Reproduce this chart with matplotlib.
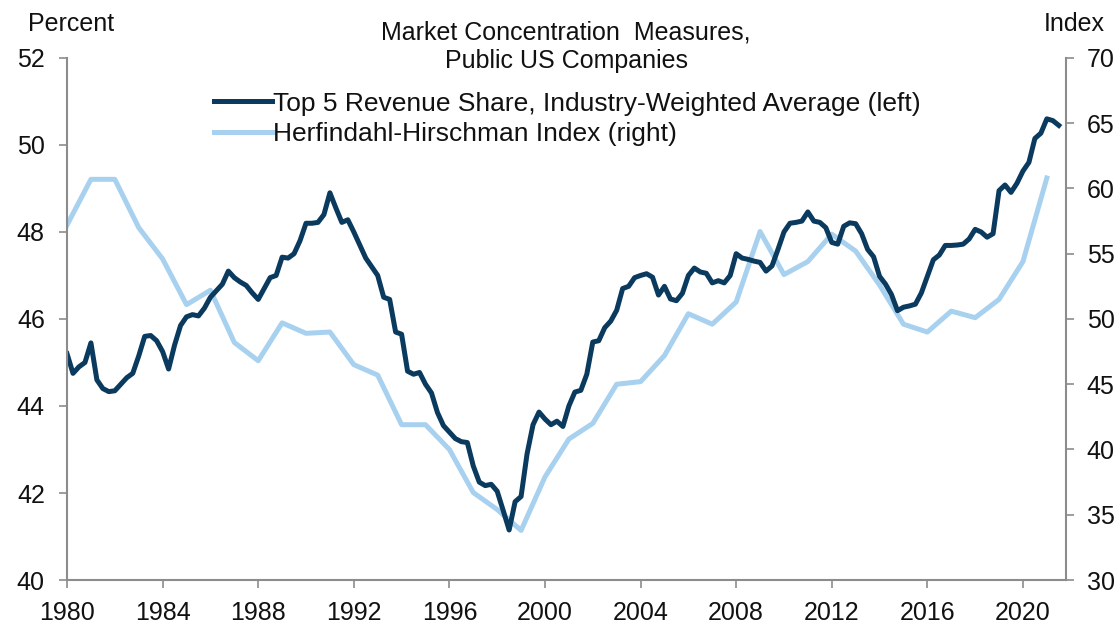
import numpy as np
import matplotlib
matplotlib.use("Agg")
import matplotlib.pyplot as plt

plt.rcParams['font.family'] = ['Liberation Sans', 'DejaVu Sans']

# Top 5 revenue share, quarterly from 1980Q1 (percent, left axis)
top5_share = [
    45.2, 44.75, 44.9, 45.0,
    45.45, 44.6, 44.4, 44.33,
    44.35, 44.5, 44.65, 44.75,
    45.15, 45.6, 45.62, 45.5,
    45.25, 44.85, 45.4, 45.85,
    46.05, 46.1, 46.07, 46.25,
    46.5, 46.65, 46.8, 47.1,
    46.95, 46.85, 46.77, 46.6,
    46.45, 46.7, 46.95, 47.0,
    47.42, 47.4, 47.5, 47.8,
    48.2, 48.2, 48.22, 48.4,
    48.9, 48.55, 48.22, 48.28,
    48.0, 47.7, 47.4, 47.2,
    47.0, 46.5, 46.45, 45.7,
    45.65, 44.8, 44.73, 44.77,
    44.5, 44.3, 43.85, 43.55,
    43.4, 43.25, 43.18, 43.16,
    42.62, 42.25, 42.17, 42.2,
    42.04, 41.6, 41.15, 41.8,
    41.92, 42.9, 43.57, 43.86,
    43.7, 43.57, 43.65, 43.53,
    44.0, 44.32, 44.36, 44.73,
    45.47, 45.5, 45.8, 45.95,
    46.2, 46.7, 46.75, 46.95,
    47.0, 47.04, 46.96, 46.55,
    46.75, 46.46, 46.42, 46.59,
    47.0, 47.17, 47.08, 47.05,
    46.83, 46.88, 46.83, 47.0,
    47.5, 47.4, 47.37, 47.33,
    47.3, 47.1, 47.22, 47.6,
    48.0, 48.2, 48.22, 48.25,
    48.46, 48.25, 48.22, 48.1,
    47.76, 47.72, 48.13, 48.21,
    48.19, 47.96, 47.6, 47.43,
    46.98, 46.8, 46.56, 46.19,
    46.27, 46.3, 46.34, 46.6,
    46.98, 47.36, 47.47, 47.69,
    47.69, 47.7, 47.72, 47.84,
    48.06, 48.0, 47.88, 47.96,
    48.95, 49.08, 48.91, 49.12,
    49.4, 49.6, 50.15, 50.27,
    50.6, 50.56, 50.45,
]
top5_dates = 1980 + 0.25 * np.arange(len(top5_share))

# Herfindahl-Hirschman Index, annual (right axis)
hhi_years = list(range(1980, 2022))
hhi_values = [
    57.2, 60.7, 60.7, 57.0, 54.6, 51.1, 52.2, 48.2, 46.8, 49.7,
    48.9, 49.0, 46.5, 45.7, 41.9, 41.9, 40.0, 36.7, 35.4, 33.8,
    37.9, 40.8, 42.0, 45.0, 45.2, 47.2, 50.4, 49.6, 51.3, 56.7,
    53.4, 54.4, 56.5, 55.2, 52.6, 49.6, 49.0, 50.6, 50.1, 51.5,
    54.4, 60.8,
]

x_ticks = list(range(1980, 2021, 4))
left_ticks = [40, 42, 44, 46, 48, 50, 52]
right_ticks = [30, 35, 40, 45, 50, 55, 60, 65, 70]

dark = '#0b3a5f'
light = '#a8d1ef'
spine_c = '#8c8c8c'
fs = 18

fig = plt.figure(figsize=(11.19, 6.23), dpi=100)
ax = fig.add_axes([0.0599, 0.069, 0.8927, 0.838])
ax2 = ax.twinx()

l2, = ax2.plot(hhi_years, hhi_values, color=light, lw=3.6, solid_joinstyle='round',
               label='Herfindahl-Hirschman Index (right)')
l1, = ax.plot(top5_dates, top5_share, color=dark, lw=3.6, solid_joinstyle='round',
              label='Top 5 Revenue Share, Industry-Weighted Average (left)')
ax.set_zorder(ax2.get_zorder() + 1)
ax.patch.set_visible(False)

ax.set_xlim(1980, 2021.8)
ax.set_ylim(40, 52)
ax2.set_ylim(30, 70)
ax.set_xticks(x_ticks)
ax.set_yticks(left_ticks)
ax2.set_yticks(right_ticks)

for a in (ax, ax2):
    a.spines['top'].set_visible(False)
    for s in ('left', 'right', 'bottom'):
        a.spines[s].set_color(spine_c)
        a.spines[s].set_linewidth(1.5)
    a.tick_params(colors=spine_c, labelcolor='#111111', labelsize=fs, length=6, width=1.2,
                  direction='out')
ax.spines['right'].set_visible(False)
ax2.spines['left'].set_visible(False)
ax2.spines['bottom'].set_visible(False)
ax.tick_params(axis='y', pad=10)
ax2.tick_params(axis='y', pad=9)
ax.tick_params(axis='x', pad=9)

fig.text(0.025, 0.962, 'Percent', fontsize=fs, ha='left', va='center', color='#111111')
fig.text(0.9875, 0.962, 'Index', fontsize=fs, ha='right', va='center', color='#111111')
fig.text(0.506, 0.9246, 'Market Concentration  Measures,\nPublic US Companies',
         fontsize=fs, ha='center', va='center', linespacing=1.25, color='#111111')

ax.legend(handles=[l1, l2], loc='upper left', bbox_to_anchor=(0.191, 0.853),
          bbox_transform=fig.transFigure,
          frameon=False, fontsize=19, handlelength=2.2, handletextpad=0.05,
          labelspacing=0.25, borderaxespad=0, borderpad=0, labelcolor='#111111')

fig.savefig('out.png', dpi=100)
